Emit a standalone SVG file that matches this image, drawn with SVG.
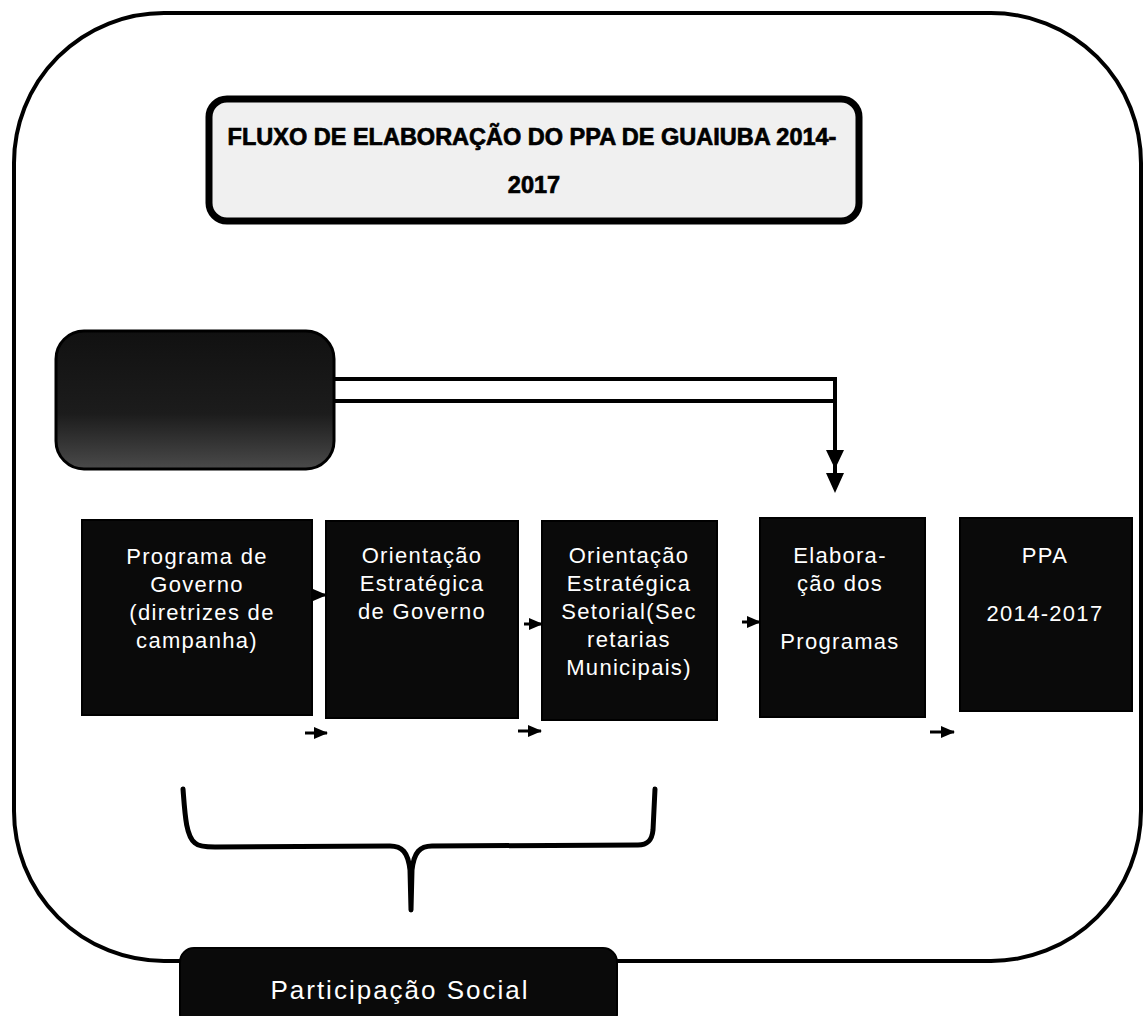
<svg xmlns="http://www.w3.org/2000/svg" width="1143" height="1016" viewBox="0 0 1143 1016">
<defs>
<style>
.box{fill:#0a0a0a;stroke:#000;stroke-width:2}
.bt{font-family:"Liberation Sans",Arial,sans-serif;font-size:22px;letter-spacing:1.3px;fill:#fff;text-anchor:middle}
.title{font-family:"Liberation Sans",Arial,sans-serif;font-size:23.5px;font-weight:bold;fill:#000;stroke:#000;stroke-width:0.7;text-anchor:middle}
.ln{fill:none;stroke:#000;stroke-width:4}
.ar{stroke:#000;stroke-width:3;marker-end:url(#ah)}
</style>
<linearGradient id="dg" x1="0" y1="0" x2="0" y2="1">
<stop offset="0" stop-color="#111"/>
<stop offset="0.6" stop-color="#1c1c1c"/>
<stop offset="1" stop-color="#4a4a4a"/>
</linearGradient>
<marker id="ah" markerWidth="14" markerHeight="12" refX="13" refY="6" orient="auto" markerUnits="userSpaceOnUse">
<path d="M0,0 L14,6 L0,12 z" fill="#000"/>
</marker>
</defs>
<rect width="1143" height="1016" fill="#fff"/>
<g id="frame">
<rect x="14" y="13" width="1127" height="948" rx="150" ry="150" fill="none" stroke="#000" stroke-width="4"/>
</g>
<g id="title">
<rect x="209" y="99" width="650" height="122" rx="18" fill="#f0f0f0" stroke="#000" stroke-width="7"/>
<text class="title" x="532" y="145">FLUXO DE ELABORAÇÃO DO PPA DE GUAIUBA 2014-</text>
<text class="title" x="534" y="193">2017</text>
</g>
<g id="dark">
<rect x="56" y="331" width="278" height="138" rx="28" fill="url(#dg)" stroke="#000" stroke-width="3"/>
</g>
<g id="connectors">
<path class="ln" d="M334,379 H835 V480"/>
<path class="ln" d="M334,401 H835"/>
<path d="M826,450 L844,450 L835,469 z M826,473 L844,473 L835,493 z" fill="#000"/>
<line class="ar" x1="310" y1="595" x2="326" y2="595"/>
<line class="ar" x1="524" y1="624" x2="542" y2="624"/>
<line class="ar" x1="742" y1="622" x2="760" y2="622"/>
<line class="ar" x1="305" y1="733" x2="327" y2="733"/>
<line class="ar" x1="518" y1="731" x2="541" y2="731"/>
<line class="ar" x1="930" y1="732" x2="954" y2="732"/>
<path d="M183,789 C185,815 186,836 195,843 C198,846 205,847 215,847 L390,846 C402,846 408,852 410,870 L411,910 M411,910 L412,870 C414,852 420,846 432,846 L638,845 C648,845 652,840 653,830 L655,789" fill="none" stroke="#000" stroke-width="5" stroke-linejoin="round" stroke-linecap="round"/>
</g>
<g id="n1">
<rect class="box" x="82" y="520" width="230" height="195"/>
<text class="bt" x="197" y="564">Programa de</text>
<text class="bt" x="197" y="592">Governo</text>
<text class="bt" x="202" y="620">(diretrizes de</text>
<text class="bt" x="197" y="648">campanha)</text>
</g>
<g id="n2">
<rect class="box" x="326" y="521" width="192" height="197"/>
<text class="bt" x="422" y="563">Orientação</text>
<text class="bt" x="422" y="591">Estratégica</text>
<text class="bt" x="422" y="619">de Governo</text>
</g>
<g id="n3">
<rect class="box" x="542" y="521" width="175" height="199"/>
<text class="bt" x="629" y="563">Orientação</text>
<text class="bt" x="629" y="591">Estratégica</text>
<text class="bt" x="629" y="619">Setorial(Sec</text>
<text class="bt" x="629" y="647">retarias</text>
<text class="bt" x="629" y="675">Municipais)</text>
</g>
<g id="n4">
<rect class="box" x="760" y="518" width="165" height="199"/>
<text class="bt" x="840" y="563">Elabora-</text>
<text class="bt" x="840" y="591">ção dos</text>
<text class="bt" x="840" y="649">Programas</text>
</g>
<g id="n5">
<rect class="box" x="960" y="518" width="172" height="193"/>
<text class="bt" x="1045" y="563">PPA</text>
<text class="bt" x="1045" y="621">2014-2017</text>
</g>
<g id="social">
<rect x="180" y="948" width="437" height="80" rx="14" fill="#0a0a0a" stroke="#000" stroke-width="2"/>
<text x="400" y="999" font-family="'Liberation Sans',Arial,sans-serif" font-size="26" fill="#fff" text-anchor="middle" letter-spacing="2">Participação Social</text>
</g>
</svg>
